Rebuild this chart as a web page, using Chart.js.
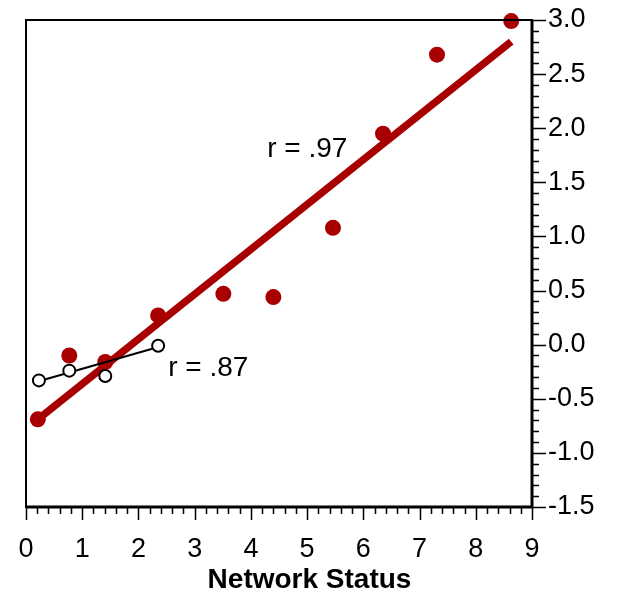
<!DOCTYPE html>
<html>
<head>
<meta charset="utf-8">
<script src="https://cdn.jsdelivr.net/npm/chart.js@4/dist/chart.umd.min.js"></script>
<style>
  html, body { margin: 0; padding: 0; background: #fff; }
  #wrap { width: 617px; height: 596px; }
</style>
</head>
<body>
<div id="wrap"><canvas id="chart" width="617" height="596"></canvas></div>
<script>
// filled (red) group
const redX = [0.21, 0.77, 1.41, 2.35, 3.51, 4.40, 5.46, 6.35, 7.31, 8.63];
const redY = [-0.69, -0.10, -0.16, 0.27, 0.47, 0.44, 1.08, 1.95, 2.68, 2.99];
// red fit line end points
const redFitX = [0.21, 8.63];
const redFitY = [-0.69, 2.80];

// open (white) group
const openX = [0.23, 0.77, 1.41, 2.35];
const openY = [-0.33, -0.24, -0.29, -0.01];
// black fit line end points
const openFitX = [0.21, 2.37];
const openFitY = [-0.34, -0.02];

const xTicks = [0, 1, 2, 3, 4, 5, 6, 7, 8, 9];
const yTicks = [-1.5, -1.0, -0.5, 0.0, 0.5, 1.0, 1.5, 2.0, 2.5, 3.0];

const xTitle = "Network Status";
const labels = [
  { text: "r = .97", x: 4.29, y: 1.81 },
  { text: "r = .87", x: 2.53, y: -0.22 },
];

const RED = "#a80000";
const FONT = "'Liberation Sans', Arial, Helvetica, sans-serif";

const pts = (xs, ys) => xs.map((x, i) => ({ x: x, y: ys[i] }));

// frame, minor ticks, axis title and r labels
const framePlugin = {
  id: "frame",
  afterDraw(chart) {
    const ctx = chart.ctx;
    const a = chart.chartArea;
    const xs = chart.scales.x;
    const ys = chart.scales.y;
    ctx.save();
    ctx.strokeStyle = "#000";
    ctx.lineWidth = 2;
    ctx.strokeRect(a.left, a.top, a.right - a.left, a.bottom - a.top);
    ctx.lineWidth = 3;
    ctx.beginPath();
    ctx.moveTo(a.right, a.top);
    ctx.lineTo(a.right, a.bottom);
    ctx.moveTo(a.left, a.bottom);
    ctx.lineTo(a.right, a.bottom);
    ctx.stroke();
    ctx.beginPath();
    ctx.lineWidth = 1.5;
    // x ticks every 0.2
    for (let i = 0; i <= 45; i++) {
      const v = i * 0.2;
      const px = Math.round(xs.getPixelForValue(v)) + 0.5;
      const len = i % 5 === 0 ? 13 : 7;
      ctx.moveTo(px, a.bottom);
      ctx.lineTo(px, a.bottom + len);
    }
    // y ticks every 0.1
    for (let i = 0; i <= 45; i++) {
      const v = -1.5 + i * 0.1;
      const py = Math.round(ys.getPixelForValue(v)) + 0.5;
      const len = i % 5 === 0 ? 14 : 7;
      ctx.moveTo(a.right, py);
      ctx.lineTo(a.right + len, py);
    }
    ctx.stroke();
    ctx.fillStyle = "#000";
    ctx.textBaseline = "middle";
    ctx.textAlign = "center";
    ctx.font = "bold 28px " + FONT;
    ctx.fillText(xTitle, chart.width / 2 + 1, chart.height - 16);
    ctx.font = "28px " + FONT;
    ctx.textAlign = "left";
    labels.forEach(l => {
      ctx.fillText(l.text, xs.getPixelForValue(l.x), ys.getPixelForValue(l.y));
    });
    ctx.restore();
  },
};

new Chart(document.getElementById("chart"), {
  type: "scatter",
  data: {
    datasets: [
      {
        label: "open",
        data: pts(openX, openY),
        pointRadius: 6,
        pointBackgroundColor: "#fff",
        pointBorderColor: "#000",
        pointBorderWidth: 2,
        showLine: false,
        clip: false,
        order: 1,
      },
      {
        label: "open fit",
        type: "line",
        data: pts(openFitX, openFitY),
        borderColor: "#000",
        borderWidth: 2,
        pointRadius: 0,
        fill: false,
        order: 2,
      },
      {
        label: "red",
        data: pts(redX, redY),
        pointRadius: 8,
        pointBackgroundColor: RED,
        pointBorderColor: RED,
        pointBorderWidth: 0,
        showLine: false,
        clip: false,
        order: 3,
      },
      {
        label: "red fit",
        type: "line",
        data: pts(redFitX, redFitY),
        borderColor: RED,
        borderWidth: 7.5,
        borderCapStyle: "butt",
        pointRadius: 0,
        fill: false,
        order: 4,
      },
    ],
  },
  options: {
    responsive: false,
    animation: false,
    events: [],
    layout: { padding: { left: 26, top: 20, right: 0, bottom: 0 } },
    plugins: { legend: { display: false }, tooltip: { enabled: false } },
    scales: {
      x: {
        type: "linear",
        position: "bottom",
        min: 0,
        max: 9,
        afterBuildTicks: s => { s.ticks = xTicks.map(v => ({ value: v })); },
        afterFit: s => {
          s.height = 89;
          s.paddingLeft = 0;
          s.paddingRight = 0;
        },
        grid: { display: false, drawTicks: false },
        border: { display: false },
        ticks: {
          color: "#000",
          padding: 26,
          maxRotation: 0,
          font: { size: 27, family: FONT },
        },
      },
      y: {
        type: "linear",
        position: "right",
        min: -1.5,
        max: 3.0,
        afterBuildTicks: s => { s.ticks = yTicks.map(v => ({ value: v })); },
        afterFit: s => {
          s.width = 85;
          s.paddingTop = 0;
          s.paddingBottom = 0;
        },
        grid: { display: false, drawTicks: false },
        border: { display: false },
        ticks: {
          color: "#000",
          padding: 16,
          font: { size: 27, family: FONT },
          callback: v => v.toFixed(1),
        },
      },
    },
  },
  plugins: [framePlugin],
});
</script>
</body>
</html>
